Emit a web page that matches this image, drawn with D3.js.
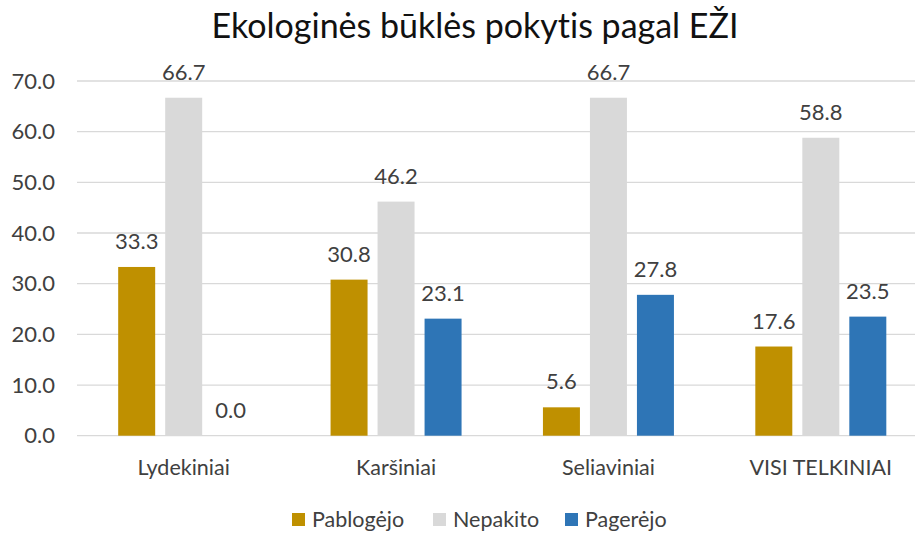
<!DOCTYPE html>
<html>
<head>
	<meta charset="utf-8">
	<title>Ekologinės būklės pokytis</title>
	<script src="https://d3js.org/d3.v7.min.js"></script>
	<style>
		body { margin: 0; background: #fff; }
		svg { font-family: Lato, 'Open Sans', sans-serif; font-variant-ligatures: none; }
	</style>
</head>
<body>
	<svg id="chart" width="915" height="533"></svg>
	<script type="text/javascript">

		var categories = ['Lydekiniai', 'Karšiniai', 'Seliaviniai', 'VISI TELKINIAI'];
		var series = ['Pablogėjo', 'Nepakito', 'Pagerėjo'];
		var pablogejo = [33.3, 30.8, 5.6, 17.6];
		var nepakito = [66.7, 46.2, 66.7, 58.8];
		var pagerejo = [0.0, 23.1, 27.8, 23.5];
		var yTicks = [0, 10, 20, 30, 40, 50, 60, 70];

		var colors = ['#bf9000', '#d9d9d9', '#2e75b6'];
		var values = [pablogejo, nepakito, pagerejo];

		var svg = d3.select('#chart');
		var plotLeft = 77, plotRight = 915;

		// rows: one per category, one field per series
		var rows = categories.map((c, i) => {
			var r = { cat: c };
			series.forEach((s, j) => r[s] = values[j][i]);
			return r;
		});

		var xScale = d3.scaleBand()
			.domain(categories)
			.range([77.5, 927]);
		var xSub = d3.scaleBand()
			.domain(series)
			.range([-65.5, 65.5])
			.paddingInner(0.213);
		var yScale = d3.scaleLinear()
			.domain([0, 70])
			.range([435.7, 81]);

		// title
		svg.append('text')
			.attr('x', 475)
			.attr('y', 38)
			.attr('text-anchor', 'middle')
			.attr('font-size', 34)
			.attr('fill', '#111')
			.text('Ekologinės būklės pokytis pagal EŽI');

		// gridlines
		svg.append('g')
			.selectAll('line')
			.data(yTicks)
			.enter().append('line')
			.attr('x1', plotLeft)
			.attr('x2', plotRight)
			.attr('y1', d => yScale(d))
			.attr('y2', d => yScale(d))
			.attr('stroke', '#d9d9d9')
			.attr('stroke-width', 1.3);

		// y axis labels
		var yAxis = d3.axisLeft(yScale)
			.tickValues(yTicks)
			.tickFormat(d3.format('.1f'))
			.tickSize(0)
			.tickPadding(0);

		svg.append('g')
			.attr('transform', 'translate(55,0)')
			.call(yAxis)
			.call(g => g.select('.domain').remove())
			.selectAll('text')
			.attr('font-family', 'Lato, sans-serif')
			.attr('font-size', 22)
			.attr('fill', '#404040');

		// x axis labels
		var xAxis = d3.axisBottom(xScale).tickSize(0).tickPadding(0);
		svg.append('g')
			.attr('transform', 'translate(0,475)')
			.call(xAxis)
			.call(g => g.select('.domain').remove())
			.selectAll('text')
			.attr('dy', 0)
			.attr('font-family', 'Lato, sans-serif')
			.attr('font-size', 21.5)
			.attr('fill', '#404040');

		// bars
		var groups = svg.append('g')
			.selectAll('g')
			.data(rows)
			.enter().append('g')
			.attr('transform', d => 'translate(' + (xScale(d.cat) + xScale.bandwidth() / 2) + ',0)');

		var cells = groups.selectAll('g')
			.data(d => series.map((s, j) => ({ key: s, value: d[s], idx: j })))
			.enter().append('g');

		cells.append('rect')
			.attr('x', d => xSub(d.key))
			.attr('y', d => yScale(d.value))
			.attr('width', xSub.bandwidth())
			.attr('height', d => yScale(0) - yScale(d.value))
			.attr('fill', d => colors[d.idx]);

		cells.append('text')
			.attr('x', d => xSub(d.key) + xSub.bandwidth() / 2)
			.attr('y', d => yScale(d.value) - 18)
			.attr('text-anchor', 'middle')
			.attr('font-size', 22)
			.attr('fill', '#404040')
			.text(d => d.value.toFixed(1));

		// legend
		var legendX = [292, 433, 565];
		var legend = svg.append('g')
			.selectAll('g')
			.data(series)
			.enter().append('g')
			.attr('transform', (d, i) => 'translate(' + legendX[i] + ',513)');

		legend.append('rect')
			.attr('width', 13)
			.attr('height', 13)
			.attr('fill', (d, i) => colors[i]);

		legend.append('text')
			.attr('x', 20)
			.attr('y', 14)
			.attr('font-size', 21.5)
			.attr('fill', '#404040')
			.text(d => d);

	</script>
</body>
</html>
